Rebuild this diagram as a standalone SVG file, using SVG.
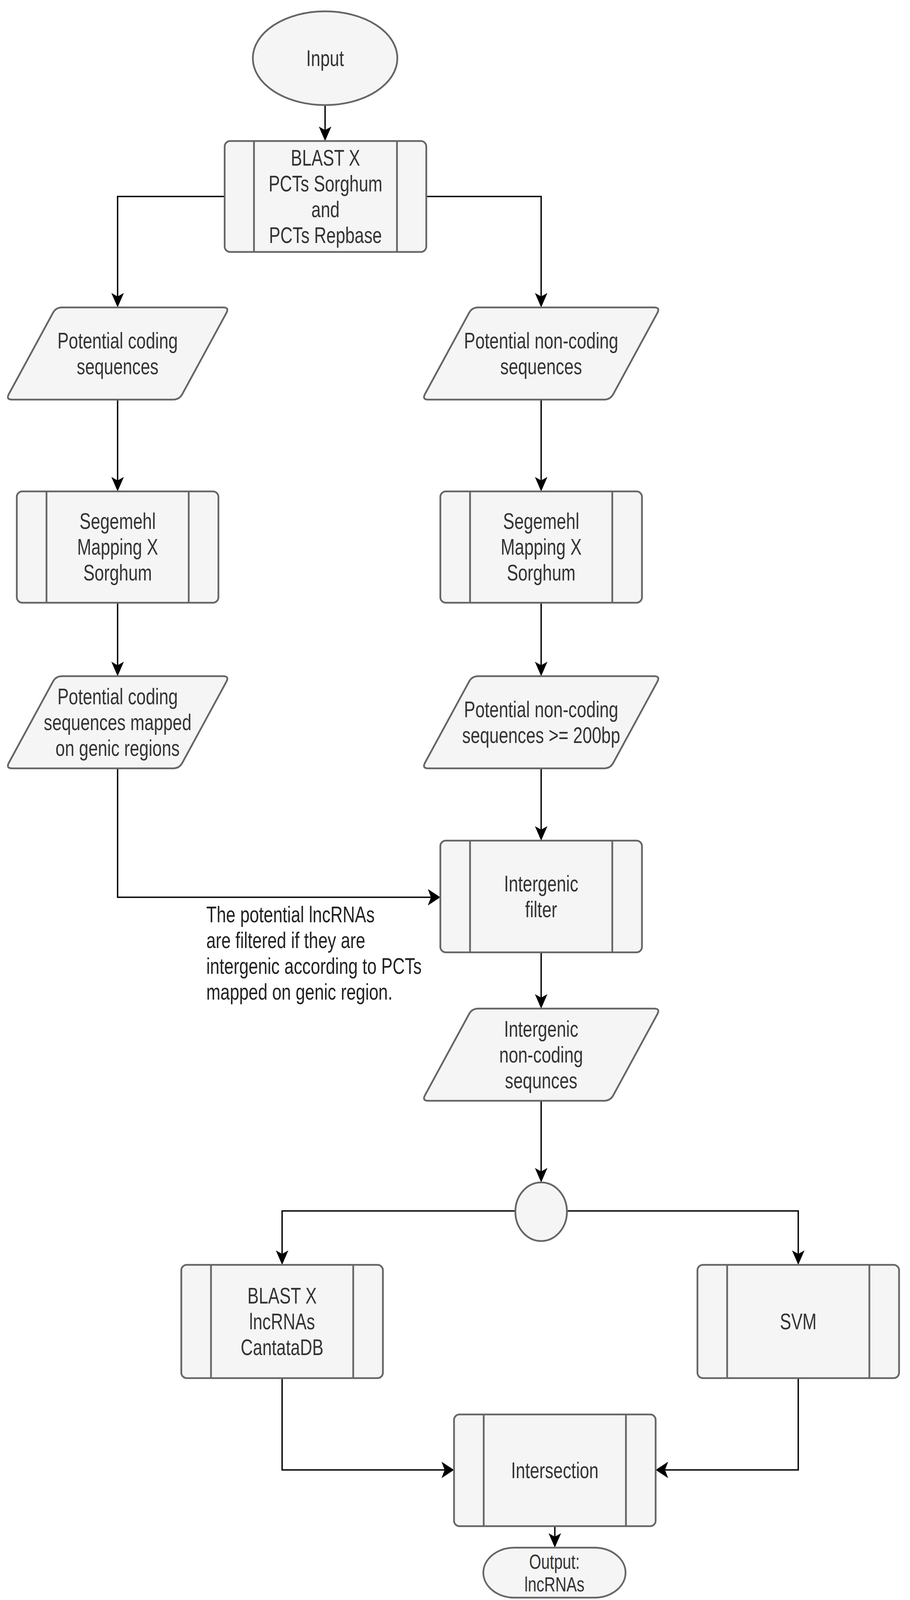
<svg xmlns="http://www.w3.org/2000/svg" xmlns:xlink="http://www.w3.org/1999/xlink" width="2329" height="4352" viewBox="0 0 2329 4352">
<style>
.shape{fill:#f5f5f5;stroke:#666666;stroke-width:4.5;stroke-linejoin:round}
.div{fill:none;stroke:#666666;stroke-width:4.5}
.t{font-family:"Liberation Sans",Arial,sans-serif;font-size:57px;fill:#333333;text-anchor:middle}
.ts{font-size:52px}
.n{font-family:"Liberation Sans",Arial,sans-serif;font-size:57px;fill:#222222;text-anchor:start}
.c{fill:none;stroke:#000000;stroke-width:3.5}
.cv{marker-end:url(#av)}
.ch{marker-end:url(#ah)}
</style>
<defs>
<marker id="av" markerUnits="userSpaceOnUse" markerWidth="40" markerHeight="44" viewBox="0 -22 40 44" refX="29" refY="0" orient="auto">
<path d="M0,-16 L37,0 L0,16 L9,0 Z" fill="#000000"/>
</marker>
<marker id="ah" markerUnits="userSpaceOnUse" markerWidth="40" markerHeight="46" viewBox="0 -23 40 46" refX="24" refY="0" orient="auto">
<path d="M0,-21 L32,0 L0,21 L8,0 Z" fill="#000000"/>
</marker>
<path id="paraL" d="M144,0 L556,0 Q572,0 564.4,14.1 L451.6,221.9 Q444,236 428,236 L16,236 Q0,236 7.6,221.9 L120.4,14.1 Q128,0 144,0 Z"/>
<path id="paraR" d="M144,0 L594,0 Q610,0 602.4,14.1 L489.6,221.9 Q482,236 466,236 L16,236 Q0,236 7.6,221.9 L120.4,14.1 Q128,0 144,0 Z"/>
</defs>

<g id="connectors">
<path class="c cv" d="M832,268 V353"/>
<path class="c cv" d="M575,503 H301 V779"/>
<path class="c cv" d="M1091,503 H1385 V779"/>
<path class="c cv" d="M301,1023 V1250"/>
<path class="c cv" d="M1385,1023 V1250"/>
<path class="c cv" d="M301,1543 V1723"/>
<path class="c cv" d="M1385,1543 V1723"/>
<path class="c cv" d="M1385,1967 V2144"/>
<path class="c ch" d="M301,1967 V2297 H1119"/>
<path class="c cv" d="M1385,2438 V2574"/>
<path class="c cv" d="M1385,2817 V3019"/>
<path class="c cv" d="M1319,3100 H722 V3230"/>
<path class="c cv" d="M1451,3100 H2043 V3230"/>
<path class="c ch" d="M722,3528 V3763 H1154"/>
<path class="c ch" d="M2043,3528 V3763 H1686"/>
<path class="c cv" d="M1420,3907 V3954"/>
</g>

<g id="input">
<ellipse class="shape" cx="832" cy="149" rx="185" ry="120"/>
<text class="t" transform="translate(832,169) scale(0.76,1)">Input</text>
</g>

<g id="blast1">
<rect class="shape" x="575" y="361" width="516" height="284" rx="14" ry="14"/>
<path class="div" d="M650,361 V645 M1016,361 V645"/>
<text class="t" transform="translate(833,424) scale(0.76,1)">BLAST X</text>
<text class="t" transform="translate(833,490) scale(0.76,1)">PCTs Sorghum</text>
<text class="t" transform="translate(833,556) scale(0.76,1)">and</text>
<text class="t" transform="translate(833,622) scale(0.76,1)">PCTs Repbase</text>
</g>

<g id="pcs">
<use xlink:href="#paraL" class="shape" transform="translate(15,787)"/>
<text class="t" transform="translate(301,892) scale(0.76,1)">Potential coding</text>
<text class="t" transform="translate(301,958) scale(0.76,1)">sequences</text>
</g>

<g id="pncs">
<use xlink:href="#paraR" class="shape" transform="translate(1080,787)"/>
<text class="t" transform="translate(1385,892) scale(0.76,1)">Potential non-coding</text>
<text class="t" transform="translate(1385,958) scale(0.76,1)">sequences</text>
</g>

<g id="segL">
<rect class="shape" x="43" y="1258" width="516" height="285" rx="14" ry="14"/>
<path class="div" d="M119,1258 V1543 M483,1258 V1543"/>
<text class="t" transform="translate(301,1354) scale(0.76,1)">Segemehl</text>
<text class="t" transform="translate(301,1420) scale(0.76,1)">Mapping X</text>
<text class="t" transform="translate(301,1486) scale(0.76,1)">Sorghum</text>
</g>

<g id="segR">
<rect class="shape" x="1127" y="1258" width="516" height="285" rx="14" ry="14"/>
<path class="div" d="M1203,1258 V1543 M1567,1258 V1543"/>
<text class="t" transform="translate(1385,1354) scale(0.76,1)">Segemehl</text>
<text class="t" transform="translate(1385,1420) scale(0.76,1)">Mapping X</text>
<text class="t" transform="translate(1385,1486) scale(0.76,1)">Sorghum</text>
</g>

<g id="pcsMapped">
<use xlink:href="#paraL" class="shape" transform="translate(15,1731)"/>
<text class="t" transform="translate(301,1803) scale(0.76,1)">Potential coding</text>
<text class="t" transform="translate(301,1869) scale(0.76,1)">sequences mapped</text>
<text class="t" transform="translate(301,1935) scale(0.76,1)">on genic regions</text>
</g>

<g id="pnc200">
<use xlink:href="#paraR" class="shape" transform="translate(1080,1731)"/>
<text class="t" transform="translate(1385,1836) scale(0.76,1)">Potential non-coding</text>
<text class="t" transform="translate(1385,1902) scale(0.76,1)">sequences &gt;= 200bp</text>
</g>

<g id="filter">
<rect class="shape" x="1127" y="2152" width="516" height="286" rx="14" ry="14"/>
<path class="div" d="M1203,2152 V2438 M1567,2152 V2438"/>
<text class="t" transform="translate(1385,2282) scale(0.76,1)">Intergenic</text>
<text class="t" transform="translate(1385,2348) scale(0.76,1)">filter</text>
</g>

<g id="note">
<text class="n" transform="translate(528,2361) scale(0.76,1)">The potential lncRNAs</text>
<text class="n" transform="translate(528,2427) scale(0.76,1)">are filtered if they are</text>
<text class="n" transform="translate(528,2493) scale(0.76,1)">intergenic according to PCTs</text>
<text class="n" transform="translate(528,2559) scale(0.76,1)">mapped on genic region.</text>
</g>

<g id="intergenic">
<use xlink:href="#paraR" class="shape" transform="translate(1080,2582)"/>
<text class="t" transform="translate(1385,2654) scale(0.76,1)">Intergenic</text>
<text class="t" transform="translate(1385,2720) scale(0.76,1)">non-coding</text>
<text class="t" transform="translate(1385,2786) scale(0.76,1)">sequnces</text>
</g>

<g id="junction">
<ellipse class="shape" cx="1385" cy="3102" rx="66" ry="75"/>
</g>

<g id="blast2">
<rect class="shape" x="464" y="3238" width="516" height="290" rx="14" ry="14"/>
<path class="div" d="M540,3238 V3528 M904,3238 V3528"/>
<text class="t" transform="translate(722,3337) scale(0.76,1)">BLAST X</text>
<text class="t" transform="translate(722,3403) scale(0.76,1)">lncRNAs</text>
<text class="t" transform="translate(722,3469) scale(0.76,1)">CantataDB</text>
</g>

<g id="svm">
<rect class="shape" x="1785" y="3238" width="516" height="290" rx="14" ry="14"/>
<path class="div" d="M1861,3238 V3528 M2225,3238 V3528"/>
<text class="t" transform="translate(2043,3403) scale(0.76,1)">SVM</text>
</g>

<g id="intersection">
<rect class="shape" x="1162" y="3621" width="516" height="286" rx="14" ry="14"/>
<path class="div" d="M1238,3621 V3907 M1602,3621 V3907"/>
<text class="t" transform="translate(1420,3784) scale(0.76,1)">Intersection</text>
</g>

<g id="output">
<rect class="shape" x="1237" y="3962" width="364" height="128" rx="80" ry="64"/>
<text class="t ts" transform="translate(1419,4016) scale(0.76,1)">Output:</text>
<text class="t ts" transform="translate(1419,4074) scale(0.76,1)">lncRNAs</text>
</g>
</svg>
